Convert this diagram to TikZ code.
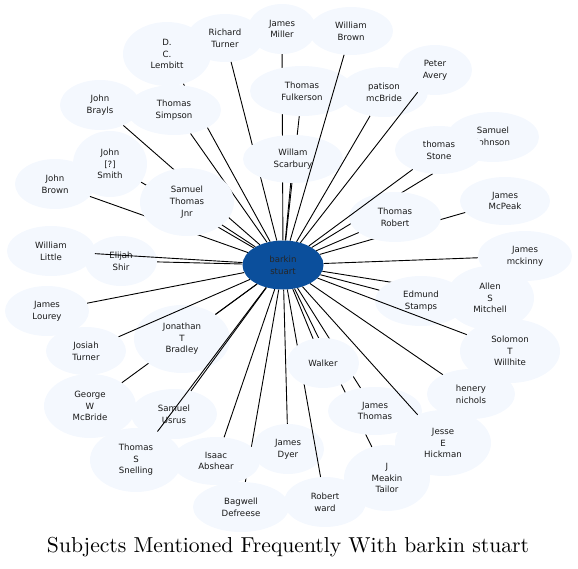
\documentclass[tikz,border=0pt]{standalone}
\usepackage{fontspec}
\usepackage{graphicx}
\usetikzlibrary{shapes.geometric}
\newfontfamily\nodefont{DejaVu Sans}
\definecolor{nodefill}{HTML}{F4F8FE}
\definecolor{hubfill}{HTML}{0B4F9C}
\begin{document}
\begin{tikzpicture}[x=1pt,y=-1pt,
  nd/.style 2 args={ellipse, fill=nodefill, draw=none, minimum width=#1pt*2, minimum height=#2pt*2,
     inner sep=0pt, align=center, font=\nodefont\fontsize{8.6}{11.6}\selectfont, text=black!90},
  hub/.style={ellipse, fill=hubfill, draw=none, minimum width=81pt, minimum height=49pt,
     inner sep=0pt, align=center, font=\nodefont\fontsize{8.6}{11.6}\selectfont, text=black!85},
  edge/.style={draw=black, line width=0.9pt}]
\useasboundingbox (0,0) rectangle (578,568);
\node[hub] (c) at (283,265) {barkin\\stuart};
\node[nd={44}{32}] (lem) at (167,54) {D.\\C.\\Lembitt}; \draw[edge] (c) -- (lem);
\node[nd={38}{24}] (rtu) at (225,38) {Richard\\Turner}; \draw[edge] (c) -- (rtu);
\node[nd={34}{25}] (jmi) at (282,29) {James\\Miller}; \draw[edge] (c) -- (jmi);
\node[nd={52}{25}] (tfu) at (302,91) {Thomas\\Fulkerson}; \draw[edge] (c) -- (tfu);
\node[nd={50}{24}] (wsc) at (293,159) {Willam\\Scarbury}; \draw[edge] (c) -- (wsc);
\node[nd={42}{24}] (wbr) at (351,31) {William\\Brown}; \draw[edge] (c) -- (wbr);
\node[nd={47}{25}] (tsi) at (174,110) {Thomas\\Simpson}; \draw[edge] (c) -- (tsi);
\node[nd={40}{25}] (jbr) at (100,105) {John\\Brayls}; \draw[edge] (c) -- (jbr);
\node[nd={37}{33}] (jsm) at (110,164) {John\\{[?]}\\Smith}; \draw[edge] (c) -- (jsm);
\node[nd={40}{25}] (jbn) at (55,184) {John\\Brown}; \draw[edge] (c) -- (jbn);
\node[nd={47}{34}] (stj) at (187,202) {Samuel\\Thomas\\Jnr}; \draw[edge] (c) -- (stj);
\node[nd={36}{25}] (esh) at (121,261) {Elijah\\Shir}; \draw[edge] (c) -- (esh);
\node[nd={44}{25}] (wli) at (51,251) {William\\Little}; \draw[edge] (c) -- (wli);
\node[nd={42}{25}] (jlo) at (47,311) {James\\Lourey}; \draw[edge] (c) -- (jlo);
\node[nd={46}{32}] (gmc) at (90,406) {George\\W\\McBride}; \draw[edge] (c) -- (gmc);
\node[nd={48}{34}] (jtb) at (182,339) {Jonathan\\T\\Bradley}; \draw[edge] (c) -- (jtb);
\node[nd={40}{24}] (jtu) at (86,351) {Josiah\\Turner}; \draw[edge] (c) -- (jtu);
\node[nd={43}{25}] (sus) at (174,414) {Samuel\\Usrus}; \draw[edge] (c) -- (sus);
\node[nd={46}{32}] (tss) at (136,460) {Thomas\\S\\Snelling}; \draw[edge] (c) -- (tss);
\node[nd={48}{25}] (bde) at (241,507) {Bagwell\\Defreese}; \draw[edge] (c) -- (bde);
\node[nd={44}{24}] (iab) at (216,461) {Isaac\\Abshear}; \draw[edge] (c) -- (iab);
\node[nd={36}{25}] (jdy) at (288,449) {James\\Dyer}; \draw[edge] (c) -- (jdy);
\node[nd={41}{25}] (rwa) at (325,502) {Robert\\ward}; \draw[edge] (c) -- (rwa);
\node[nd={43}{33}] (jmt) at (387,478) {J\\Meakin\\Tailor}; \draw[edge] (c) -- (jmt);
\node[nd={47}{24}] (jth) at (375,411) {James\\Thomas}; \draw[edge] (c) -- (jth);
\node[nd={36}{25}] (wal) at (323,363) {Walker}; \draw[edge] (c) -- (wal);
\node[nd={48}{33}] (jeh) at (443,443) {Jesse\\E\\Hickman}; \draw[edge] (c) -- (jeh);
\node[nd={44}{25}] (hni) at (471,394) {henery\\nichols}; \draw[edge] (c) -- (hni);
\node[nd={44}{32}] (asm) at (490,298) {Allen\\S\\Mitchell}; \draw[edge] (c) -- (asm);
\node[nd={46}{25}] (est) at (421,301) {Edmund\\Stamps}; \draw[edge] (c) -- (est);
\node[nd={50}{32}] (stw) at (510,351) {Solomon\\T\\Willhite}; \draw[edge] (c) -- (stw);
\node[nd={47}{25}] (jmk) at (525,256) {James\\mckinny}; \draw[edge] (c) -- (jmk);
\node[nd={45}{24}] (jmp) at (505,201) {James\\McPeak}; \draw[edge] (c) -- (jmp);
\node[nd={46}{25}] (sjo) at (493,137) {Samuel\\Johnson}; \draw[edge] (c) -- (sjo);
\node[nd={46}{25}] (tro) at (395,217) {Thomas\\Robert}; \draw[edge] (c) -- (tro);
\node[nd={44}{24}] (tst) at (439,150) {thomas\\Stone}; \draw[edge] (c) -- (tst);
\node[nd={44}{25}] (pmc) at (384,92) {patison\\mcBride}; \draw[edge] (c) -- (pmc);
\node[nd={37}{25}] (pav) at (435,70) {Peter\\Avery}; \draw[edge] (c) -- (pav);
\node[inner sep=0pt] (title) at (288,547) {\resizebox{482pt}{!}{Subjects Mentioned Frequently With barkin stuart}};
\end{tikzpicture}
\end{document}
